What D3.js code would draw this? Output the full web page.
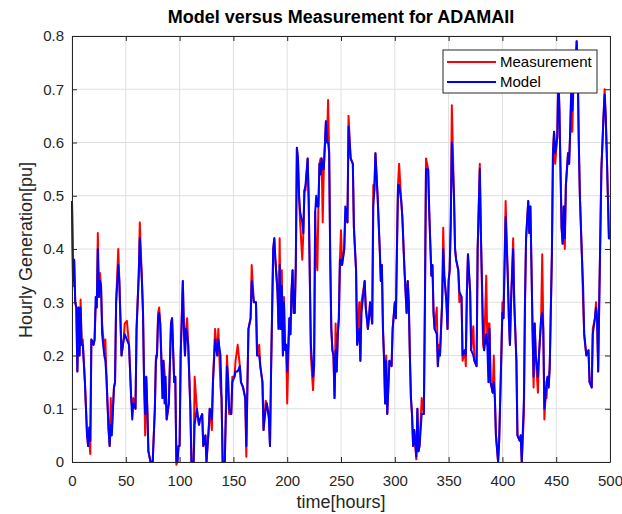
<!DOCTYPE html>
<html>
<head>
<meta charset="utf-8">
<script src="https://cdn.jsdelivr.net/npm/d3@7"></script>
<style>
  body { margin: 0; background: #fff; }
  text { font-family: "Liberation Sans", Arial, Helvetica, sans-serif; }
</style>
</head>
<body>
<svg id="chart" width="622" height="514"></svg>
<script>

const hours = [
  0,1,2,3,4,5,6,7,8,9,10,12,14,15,16,17,18,20,21,22,23,24,25,26,27,28,30,31,32,34,35,36,37,39,40,41,43,44,46,48,49,
  51,53,55,56,57,59,60,62,63,65,66,67,68,69,70,71,73,75,77,78,79,80,81,82,84,85,86,87,88,90,92,93,95,96,97,98,99,
  100,101,103,104,105,106,107,108,110,111,113,114,116,118,119,121,122,124,125,127,128,130,131,133,135,136,138,139,
  140,142,144,145,146,148,149,151,152,154,156,157,159,161,162,163,164,166,167,169,171,172,174,175,177,178,180,181,
  183,184,185,187,188,189,191,192,193,194,195,196,197,198,199,200,202,203,204,205,206,207,208,209,210,211,212,214,
  215,216,217,219,220,221,222,224,225,226,227,228,229,230,231,232,233,234,236,237,238,239,240,241,242,243,244,245,
  246,247,248,249,250,251,253,254,256,257,259,261,262,264,265,267,268,269,272,273,275,276,277,279,280,281,282,284,
  286,287,288,289,290,291,292,293,295,297,298,300,301,302,303,304,306,307,309,311,312,313,314,315,316,317,318,320,
  321,322,323,325,327,328,329,331,332,334,335,336,337,339,340,341,342,344,345,346,348,349,350,351,352,353,355,356,
  357,359,360,362,363,365,366,367,368,370,371,373,374,376,377,379,380,382,383,385,386,387,388,389,391,392,393,394,
  396,397,399,400,401,402,403,405,406,407,408,410,411,413,414,416,417,418,420,421,422,424,425,426,427,428,429,430,
  431,433,434,436,437,438,439,440,441,442,443,444,446,447,448,449,451,452,453,454,455,456,457,458,459,461,462,463,
  464,465,466,468,469,470,471,472,474,475,476,478,480,481,483,484,486,487,488,489,490,492,494,495,496,497,498,499,500
];

const model = [
  .49,.34,.38,.30,.29,.17,.29,.20,.29,.22,.22,.15,.05,.03,.065,.04,.23,.22,.23,.31,.29,.40,.31,.34,.33,.24,.20,.19,.16,.06,.03,.07,.05,.14,.15,.30,.37,.34,.20,.23,.24,
  .23,.22,.12,.08,.11,.10,.25,.35,.42,.34,.28,.15,.09,.16,.10,.02,.00,.00,.10,.19,.20,.27,.28,.26,.12,.19,.11,.16,.08,.11,.26,.27,.15,.16,.00,.00,.03,
  .03,.20,.34,.25,.20,.25,.24,.22,.10,.00,.00,.07,.10,.07,.08,.09,.03,.05,.00,.06,.10,.08,.15,.23,.20,.23,.20,.12,
  .00,.00,.18,.16,.10,.09,.15,.16,.17,.17,.18,.15,.14,.12,.03,.14,.25,.27,.34,.30,.30,.20,.20,.18,.15,.06,.10,.11,
  .08,.03,.17,.40,.42,.38,.32,.25,.37,.25,.33,.20,.30,.21,.22,.17,.27,.24,.32,.36,.28,.28,.37,.59,.57,.50,.47,.45,
  .43,.51,.52,.57,.49,.35,.22,.16,.18,.47,.50,.48,.48,.56,.54,.57,.55,.55,.64,.60,.60,.58,.38,.25,.21,.20,.12,.21,
  .17,.24,.27,.38,.38,.37,.40,.48,.45,.63,.57,.56,.44,.36,.22,.25,.19,.28,.34,.29,.25,.27,.30,.26,.48,.51,.58,.50,
  .40,.34,.37,.25,.19,.11,.19,.09,.19,.18,.25,.30,.27,.40,.52,.52,.49,.46,.36,.28,.34,.30,.20,.12,.09,.03,.06,.01,
  .10,.02,.03,.09,.09,.30,.55,.55,.47,.35,.37,.28,.25,.24,.18,.21,.20,.30,.40,.35,.30,.25,.34,.36,.45,.60,.50,.40,
  .38,.36,.32,.31,.20,.21,.20,.32,.39,.32,.21,.20,.19,.18,.40,.55,.43,.25,.21,.24,.22,.15,.25,.15,.13,.15,.12,.05,
  .00,.04,.20,.28,.27,.37,.46,.35,.27,.22,.30,.40,.30,.19,.05,.04,.05,.00,.12,.30,.42,.49,.43,.48,.37,.25,.16,.26,
  .20,.16,.20,.27,.28,.25,.10,.12,.15,.16,.14,.18,.39,.58,.62,.58,.61,.73,.66,.55,.44,.41,.48,.42,.52,.58,.56,.62,
  .70,.66,.71,.73,.79,.74,.60,.50,.38,.33,.24,.20,.21,.15,.14,.24,.27,.29,.27,.17,.30,.55,.65,.69,.65,.58,.50,.42,.42
];

const measurement = [
  .49,.33,.38,.30,.29,.17,.29,.20,.305,.22,.23,.15,.05,.03,.04,.015,.23,.22,.23,.29,.29,.43,.31,.355,.33,.26,.21,.23,.16,.06,.03,.12,.06,.14,.15,.30,.40,.34,.20,.23,.26,
  .265,.22,.12,.10,.12,.10,.25,.35,.45,.34,.28,.15,.05,.16,.10,.02,.00,.00,.10,.20,.20,.28,.29,.26,.15,.19,.17,.13,.08,.11,.26,.27,.15,.16,-.005,.00,.03,
  .03,.20,.34,.25,.20,.25,.27,.22,.10,.00,.00,.16,.10,.07,.08,.09,.03,.05,.00,.06,.10,.06,.15,.25,.20,.25,.14,.12,
  .00,.00,.20,.16,.09,.09,.16,.16,.19,.22,.18,.15,.14,.12,.01,.14,.25,.27,.37,.30,.30,.20,.22,.18,.15,.06,.115,.11,
  .09,.03,.17,.40,.42,.38,.32,.25,.42,.25,.36,.20,.31,.21,.22,.11,.27,.24,.32,.36,.28,.28,.37,.59,.57,.50,.45,.38,
  .43,.51,.51,.57,.49,.35,.20,.135,.18,.47,.39,.36,.48,.56,.57,.57,.45,.55,.64,.60,.68,.58,.38,.25,.21,.20,.12,.26,
  .17,.24,.27,.38,.435,.37,.40,.46,.45,.65,.57,.56,.44,.36,.22,.30,.19,.30,.34,.29,.25,.27,.30,.26,.52,.51,.58,.50,
  .40,.34,.37,.25,.20,.11,.20,.09,.19,.18,.25,.30,.27,.40,.52,.56,.49,.46,.36,.28,.34,.30,.20,.12,.09,.03,.06,.005,
  .10,.02,.03,.12,.09,.30,.57,.55,.47,.35,.37,.28,.25,.29,.18,.22,.20,.30,.44,.35,.30,.25,.34,.36,.45,.67,.50,.40,
  .38,.36,.30,.31,.19,.21,.18,.32,.39,.32,.21,.255,.19,.18,.40,.56,.43,.22,.21,.35,.22,.26,.26,.15,.13,.20,.12,.05,
  .00,.04,.20,.30,.27,.37,.49,.35,.27,.22,.30,.42,.30,.19,.05,.04,.05,.00,.09,.30,.42,.49,.43,.48,.37,.25,.14,.26,
  .20,.13,.20,.27,.39,.25,.08,.12,.12,.16,.14,.18,.39,.585,.62,.56,.61,.73,.66,.55,.44,.41,.48,.40,.52,.58,.56,.62,
  .70,.62,.71,.73,.79,.74,.60,.50,.38,.30,.24,.20,.21,.15,.14,.25,.27,.30,.27,.17,.30,.55,.65,.70,.65,.58,.50,.42,.42
];

const xTicks = d3.range(0, 501, 50);
const yTicks = [0, 0.1, 0.2, 0.3, 0.4, 0.5, 0.6, 0.7, 0.8];
const seriesNames = ["Measurement", "Model"];
const seriesColors = ["#ff0000", "#0000ff"];

const W = 622, H = 514;
const M = {top: 36, right: 12, bottom: 52, left: 72};
const AXIS = "#262626";

const svg = d3.select("#chart");

const x = d3.scaleLinear().domain([0, 500]).range([M.left, W - M.right]);
const y = d3.scaleLinear().domain([0, 0.8]).range([H - M.bottom, M.top]);

/* grid */
const grid = svg.append("g").attr("stroke", "#dfdfdf").attr("stroke-width", 1);
grid.selectAll("line.gx").data(xTicks).enter().append("line")
  .attr("x1", d => x(d)).attr("x2", d => x(d))
  .attr("y1", y(0)).attr("y2", y(0.8));
grid.selectAll("line.gy").data(yTicks).enter().append("line")
  .attr("y1", d => y(d)).attr("y2", d => y(d))
  .attr("x1", x(0)).attr("x2", x(500));

/* series */
const line = vals => d3.line()
  .x((d, i) => x(hours[i]))
  .y(d => y(d))(vals);

[measurement, model].forEach((vals, i) => {
  svg.append("path")
    .attr("d", line(vals))
    .attr("fill", "none")
    .attr("stroke", seriesColors[i])
    .attr("stroke-width", 2)
    .attr("stroke-linejoin", "round");
});

/* axes — MATLAB style, ticks pointing inward on all four sides */
function styleAxis(g){
  g.selectAll(".domain").attr("stroke", AXIS);
  g.selectAll(".tick line").attr("stroke", AXIS);
  g.selectAll("text").attr("fill", AXIS).style("font-size", "15px")
    .style("font-family", '"Liberation Sans", Arial, sans-serif');
}

svg.append("g").attr("transform", `translate(0,${y(0)})`)
  .call(d3.axisBottom(x).tickValues(xTicks).tickSizeInner(-5).tickSizeOuter(0).tickPadding(13))
  .call(styleAxis);
svg.append("g").attr("transform", `translate(0,${y(0.8)})`)
  .call(d3.axisTop(x).tickValues(xTicks).tickSizeInner(-5).tickSizeOuter(0).tickFormat(""))
  .call(styleAxis);
svg.append("g").attr("transform", `translate(${x(0)},0)`)
  .call(d3.axisLeft(y).tickValues(yTicks).tickSizeInner(-5).tickSizeOuter(0).tickPadding(8)
        .tickFormat(d => d === 0 ? "0" : d3.format(".1f")(d)))
  .call(styleAxis);
svg.append("g").attr("transform", `translate(${x(500)},0)`)
  .call(d3.axisRight(y).tickValues(yTicks).tickSizeInner(-5).tickSizeOuter(0).tickFormat(""))
  .call(styleAxis);

/* titles */
svg.append("text").attr("x", 341).attr("y", 23).attr("text-anchor", "middle")
  .style("font-size", "18px").style("font-weight", "bold").attr("fill", "#000")
  .text("Model versus Measurement for ADAMAII");
svg.append("text").attr("x", 341).attr("y", 508).attr("text-anchor", "middle")
  .style("font-size", "18px").attr("fill", AXIS)
  .text("time[hours]");
svg.append("text").attr("transform", "translate(32,250) rotate(-90)").attr("text-anchor", "middle")
  .style("font-size", "18px").attr("fill", AXIS)
  .text("Hourly Generation[pu]");

/* legend */
const lg = svg.append("g").attr("transform", "translate(443,50)");
lg.append("rect").attr("width", 154).attr("height", 43)
  .attr("fill", "#fff").attr("stroke", AXIS).attr("stroke-width", 1);
seriesNames.forEach((name, i) => {
  const yy = 12 + i * 20;
  lg.append("line").attr("x1", 4).attr("x2", 53).attr("y1", yy).attr("y2", yy)
    .attr("stroke", seriesColors[i]).attr("stroke-width", 2);
  lg.append("text").attr("x", 57).attr("y", yy).attr("dy", "0.35em")
    .style("font-size", "15px").attr("fill", "#000").text(name);
});
</script>
</body>
</html>
